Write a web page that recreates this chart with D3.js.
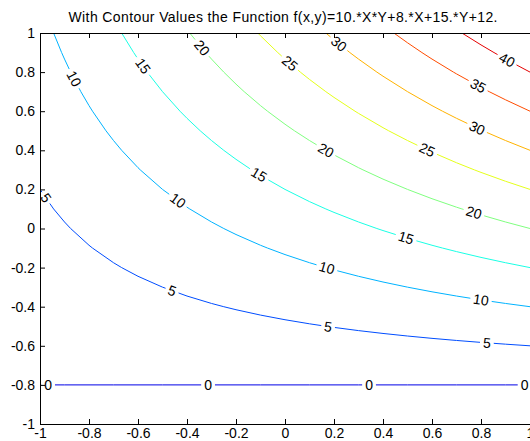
<!DOCTYPE html>
<html><head><meta charset="utf-8">
<script src="https://cdn.jsdelivr.net/npm/d3@7/dist/d3.min.js"></script>
<style>
body{margin:0;background:#fff}
svg{display:block}
text{font-family:"Liberation Sans",Arial,Helvetica,sans-serif}
</style>
</head><body>
<svg id="c" width="530" height="441"></svg>
<script>
// ---- data ----
const titleText = "With Contour Values the Function f(x,y)=10.*X*Y+8.*X+15.*Y+12.";
const coefficients = [10, 8, 15, 12]; // f = a*X*Y + b*X + c*Y + d
const gridX = [-1,-0.9,-0.8,-0.7,-0.6,-0.5,-0.4,-0.3,-0.2,-0.1,0,0.1,0.2,0.3,0.4,0.5,0.6,0.7,0.8,0.9,1];
const gridY = [-1,-0.9,-0.8,-0.7,-0.6,-0.5,-0.4,-0.3,-0.2,-0.1,0,0.1,0.2,0.3,0.4,0.5,0.6,0.7,0.8,0.9,1];
const levels = [0, 5, 10, 15, 20, 25, 30, 35, 40];
const labelX = [
  [-0.967, -0.314, 0.343, 0.978],
  [-0.976, -0.461, 0.176, 0.824],
  [-0.861, -0.437, 0.171, 0.800],
  [-0.580, -0.106, 0.494],
  [-0.339, 0.167, 0.771],
  [0.020, 0.580],
  [0.220, 0.784],
  [0.788],
  [0.906]
];
const xTicks = [-1,-0.8,-0.6,-0.4,-0.2,0,0.2,0.4,0.6,0.8,1];
const yTicks = [-1,-0.8,-0.6,-0.4,-0.2,0,0.2,0.4,0.6,0.8,1];

// ---- layout ----
const L = 40, R = 530, T = 33, B = 424;
const svg = d3.select("#c");
const x = d3.scaleLinear().domain([-1, 1]).range([L, R]);
const y = d3.scaleLinear().domain([-1, 1]).range([B, T]);
const cnorm = d3.scaleLinear().domain([-5, 45]).range([0, 1]);
function jet(t) {
  const c = v => Math.max(0, Math.min(1, v));
  return d3.rgb(255 * c(1.5 - Math.abs(4 * t - 3)), 255 * c(1.5 - Math.abs(4 * t - 2)), 255 * c(1.5 - Math.abs(4 * t - 1))).formatHex();
}

const F = (a, b) => coefficients[0] * a * b + coefficients[1] * a + coefficients[2] * b + coefficients[3];
const Z = gridY.map(b => gridX.map(a => Math.round(F(a, b) * 1e9) / 1e9));

function contourLines(lev) {
  const nx = gridX.length, ny = gridY.length;
  const pts = new Map(), adj = new Map();
  const inside = (i, j) => Z[j][i] >= lev;
  function cross(key, i0, j0, i1, j1) {
    if (inside(i0, j0) === inside(i1, j1)) return null;
    if (!pts.has(key)) {
      const v0 = Z[j0][i0], v1 = Z[j1][i1];
      const t = (lev - v0) / (v1 - v0);
      pts.set(key, [gridX[i0] + t * (gridX[i1] - gridX[i0]), gridY[j0] + t * (gridY[j1] - gridY[j0])]);
    }
    return key;
  }
  function link(a, b) {
    if (!adj.has(a)) adj.set(a, []);
    if (!adj.has(b)) adj.set(b, []);
    adj.get(a).push(b); adj.get(b).push(a);
  }
  for (let j = 0; j < ny - 1; j++) {
    for (let i = 0; i < nx - 1; i++) {
      const ks = [
        cross("h" + i + "_" + j, i, j, i + 1, j),
        cross("v" + (i + 1) + "_" + j, i + 1, j, i + 1, j + 1),
        cross("h" + i + "_" + (j + 1), i, j + 1, i + 1, j + 1),
        cross("v" + i + "_" + j, i, j, i, j + 1)
      ].filter(k => k);
      if (ks.length === 2) link(ks[0], ks[1]);
      else if (ks.length === 4) { link(ks[0], ks[1]); link(ks[2], ks[3]); }
    }
  }
  const used = new Set(), lines = [];
  const starts = [...adj.keys()].filter(k => adj.get(k).length === 1).concat([...adj.keys()]);
  starts.forEach(s => {
    if (used.has(s)) return;
    const line = [];
    let cur = s, prev = null;
    while (cur && !used.has(cur)) {
      used.add(cur); line.push(pts.get(cur));
      const nb = adj.get(cur).filter(k => k !== prev && !used.has(k));
      prev = cur; cur = nb[0];
    }
    if (line.length > 1) lines.push(line);
  });
  return lines;
}

svg.append("defs").append("clipPath").attr("id", "clip")
  .append("rect").attr("x", L).attr("y", T).attr("width", R - L).attr("height", B - T);

const gLines = svg.append("g").attr("clip-path", "url(#clip)");
const gLabels = svg.append("g");

levels.forEach((lev, k) => {
  const col = jet(cnorm(lev));
  contourLines(lev).forEach(line => {
    let P = line.map(p => [x(p[0]), y(p[1])]);
    if (P[0][0] > P[P.length - 1][0]) P = P.reverse();
    const S = [0];
    for (let i = 1; i < P.length; i++) S.push(S[i - 1] + Math.hypot(P[i][0] - P[i - 1][0], P[i][1] - P[i - 1][1]));
    const total = S[S.length - 1];
    function at(s) {
      s = Math.max(0, Math.min(total, s));
      let i = 1;
      while (i < S.length - 1 && S[i] < s) i++;
      const seg = S[i] - S[i - 1];
      const t = seg > 0 ? (s - S[i - 1]) / seg : 0;
      return [P[i - 1][0] + t * (P[i][0] - P[i - 1][0]), P[i - 1][1] + t * (P[i][1] - P[i - 1][1])];
    }
    const gaps = [];
    labelX[k].forEach(lx => {
      const px = x(lx);
      let idx = -1;
      for (let i = 0; i < P.length - 1; i++) {
        const a = P[i][0], b = P[i + 1][0];
        if (a !== b && (px - a) * (px - b) <= 0) { idx = i; break; }
      }
      if (idx < 0) return;
      const t = (px - P[idx][0]) / (P[idx + 1][0] - P[idx][0]);
      const s0 = S[idx] + t * (S[idx + 1] - S[idx]);
      const c = at(s0);
      const txt = gLabels.append("text")
        .attr("text-anchor", "middle").attr("dy", "0.35em")
        .attr("font-size", 14).attr("fill", "#000").text(lev);
      const w = txt.node().getComputedTextLength();
      const pA = at(s0 - w / 2), pB = at(s0 + w / 2);
      let ang = Math.atan2(pB[1] - pA[1], pB[0] - pA[0]) * 180 / Math.PI;
      if (ang > 90) ang -= 180;
      if (ang < -90) ang += 180;
      txt.attr("transform", `translate(${c[0]},${c[1]}) rotate(${ang})`);
      gaps.push([s0 - w / 2 - 3, s0 + w / 2 + 3]);
    });
    gaps.sort((a, b) => a[0] - b[0]);
    const keep = [];
    let start = 0;
    gaps.forEach(([a, b]) => { if (a > start) keep.push([start, a]); start = Math.max(start, b); });
    if (start < total) keep.push([start, total]);
    keep.forEach(([a, b]) => {
      const pts = [at(a)];
      for (let i = 0; i < P.length; i++) if (S[i] > a && S[i] < b) pts.push(P[i]);
      pts.push(at(b));
      gLines.append("path").attr("d", d3.line()(pts))
        .attr("fill", "none").attr("stroke", col).attr("stroke-width", 1);
    });
  });
});

// ---- axes ----
const fmt = d => String(d);
svg.append("g").attr("transform", `translate(0,${B})`)
  .call(d3.axisBottom(x).tickValues(xTicks).tickFormat(fmt).tickSizeInner(-5).tickSizeOuter(0).tickPadding(4));
svg.append("g").attr("transform", `translate(${L},0)`)
  .call(d3.axisLeft(y).tickValues(yTicks).tickFormat(fmt).tickSizeInner(-5).tickSizeOuter(0).tickPadding(5));
svg.append("g").attr("transform", `translate(0,${T})`)
  .call(d3.axisTop(x).tickValues(xTicks).tickFormat("").tickSizeInner(-5).tickSizeOuter(0));
svg.selectAll(".tick text").attr("font-size", 14).attr("font-family", '"Liberation Sans",Arial,sans-serif').attr("fill", "#000");
svg.selectAll(".domain, .tick line").attr("stroke", "#000");

svg.append("text").attr("x", (L + R) / 2 - 2).attr("y", 22).attr("text-anchor", "middle")
  .attr("font-size", 14).attr("textLength", 429).attr("lengthAdjust", "spacing")
  .attr("fill", "#000").text(titleText);
</script>
</body></html>
